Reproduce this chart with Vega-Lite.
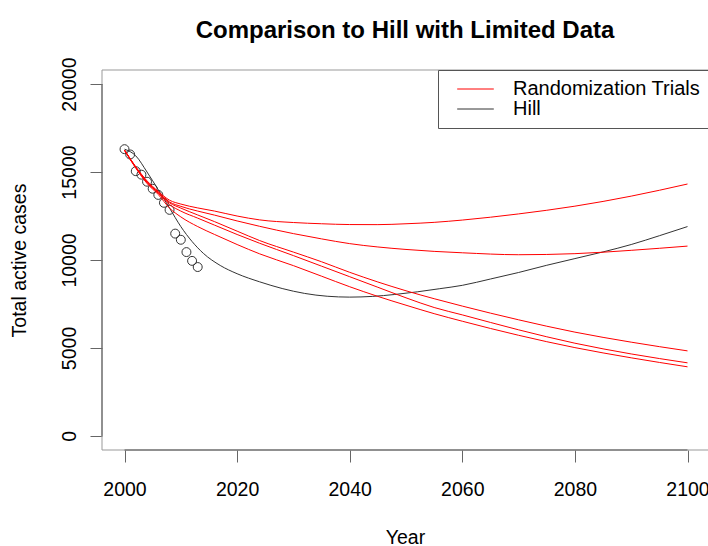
{
  "$schema": "https://vega.github.io/schema/vega-lite/v6.json",
  "width": 606,
  "height": 380,
  "autosize": {"type": "none"},
  "padding": {"left": 102, "top": 70, "right": 0, "bottom": 96},
  "background": "white",
  "title": {
    "text": "Comparison to Hill with Limited Data",
    "font": "Liberation Sans",
    "fontSize": 24,
    "fontWeight": "bold",
    "color": "#000000",
    "anchor": "middle",
    "frame": "group",
    "baseline": "alphabetic",
    "offset": 34,
    "dy": 39
  },
  "datasets": {
    "observed": [
      {"year": 2000, "cases": 16300},
      {"year": 2001, "cases": 16000},
      {"year": 2002, "cases": 15050},
      {"year": 2003, "cases": 14850},
      {"year": 2004, "cases": 14450},
      {"year": 2005, "cases": 14050},
      {"year": 2006, "cases": 13700},
      {"year": 2007, "cases": 13250},
      {"year": 2008, "cases": 12850},
      {"year": 2009, "cases": 11500},
      {"year": 2010, "cases": 11150},
      {"year": 2011, "cases": 10450},
      {"year": 2012, "cases": 9950},
      {"year": 2013, "cases": 9600}
    ],
    "curves": [
      {"model": "Hill", "run": 0, "year": 2000, "cases": 16300},
      {"model": "Hill", "run": 0, "year": 2002, "cases": 15920},
      {"model": "Hill", "run": 0, "year": 2004, "cases": 15000},
      {"model": "Hill", "run": 0, "year": 2006, "cases": 13990},
      {"model": "Hill", "run": 0, "year": 2008, "cases": 12950},
      {"model": "Hill", "run": 0, "year": 2010, "cases": 11900},
      {"model": "Hill", "run": 0, "year": 2012, "cases": 11050},
      {"model": "Hill", "run": 0, "year": 2014, "cases": 10380},
      {"model": "Hill", "run": 0, "year": 2017, "cases": 9690},
      {"model": "Hill", "run": 0, "year": 2020, "cases": 9220},
      {"model": "Hill", "run": 0, "year": 2024, "cases": 8760},
      {"model": "Hill", "run": 0, "year": 2028, "cases": 8380},
      {"model": "Hill", "run": 0, "year": 2032, "cases": 8100},
      {"model": "Hill", "run": 0, "year": 2036, "cases": 7940},
      {"model": "Hill", "run": 0, "year": 2040, "cases": 7890},
      {"model": "Hill", "run": 0, "year": 2044, "cases": 7930},
      {"model": "Hill", "run": 0, "year": 2048, "cases": 8040},
      {"model": "Hill", "run": 0, "year": 2052, "cases": 8190},
      {"model": "Hill", "run": 0, "year": 2056, "cases": 8370},
      {"model": "Hill", "run": 0, "year": 2060, "cases": 8560},
      {"model": "Hill", "run": 0, "year": 2065, "cases": 8920},
      {"model": "Hill", "run": 0, "year": 2070, "cases": 9290},
      {"model": "Hill", "run": 0, "year": 2075, "cases": 9700},
      {"model": "Hill", "run": 0, "year": 2080, "cases": 10080},
      {"model": "Hill", "run": 0, "year": 2085, "cases": 10460},
      {"model": "Hill", "run": 0, "year": 2090, "cases": 10880},
      {"model": "Hill", "run": 0, "year": 2095, "cases": 11380},
      {"model": "Hill", "run": 0, "year": 2100, "cases": 11900},

      {"model": "Randomization Trials", "run": 1, "year": 2000, "cases": 16250},
      {"model": "Randomization Trials", "run": 1, "year": 2002, "cases": 15300},
      {"model": "Randomization Trials", "run": 1, "year": 2004, "cases": 14500},
      {"model": "Randomization Trials", "run": 1, "year": 2006, "cases": 13900},
      {"model": "Randomization Trials", "run": 1, "year": 2008, "cases": 13400},
      {"model": "Randomization Trials", "run": 1, "year": 2010, "cases": 13180},
      {"model": "Randomization Trials", "run": 1, "year": 2013, "cases": 12960},
      {"model": "Randomization Trials", "run": 1, "year": 2016, "cases": 12780},
      {"model": "Randomization Trials", "run": 1, "year": 2020, "cases": 12500},
      {"model": "Randomization Trials", "run": 1, "year": 2024, "cases": 12280},
      {"model": "Randomization Trials", "run": 1, "year": 2030, "cases": 12130},
      {"model": "Randomization Trials", "run": 1, "year": 2035, "cases": 12060},
      {"model": "Randomization Trials", "run": 1, "year": 2040, "cases": 12015},
      {"model": "Randomization Trials", "run": 1, "year": 2045, "cases": 12010},
      {"model": "Randomization Trials", "run": 1, "year": 2050, "cases": 12060},
      {"model": "Randomization Trials", "run": 1, "year": 2055, "cases": 12140},
      {"model": "Randomization Trials", "run": 1, "year": 2060, "cases": 12270},
      {"model": "Randomization Trials", "run": 1, "year": 2070, "cases": 12620},
      {"model": "Randomization Trials", "run": 1, "year": 2080, "cases": 13060},
      {"model": "Randomization Trials", "run": 1, "year": 2090, "cases": 13630},
      {"model": "Randomization Trials", "run": 1, "year": 2100, "cases": 14320},

      {"model": "Randomization Trials", "run": 2, "year": 2000, "cases": 16250},
      {"model": "Randomization Trials", "run": 2, "year": 2002, "cases": 15280},
      {"model": "Randomization Trials", "run": 2, "year": 2004, "cases": 14460},
      {"model": "Randomization Trials", "run": 2, "year": 2006, "cases": 13860},
      {"model": "Randomization Trials", "run": 2, "year": 2008, "cases": 13300},
      {"model": "Randomization Trials", "run": 2, "year": 2010, "cases": 13050},
      {"model": "Randomization Trials", "run": 2, "year": 2013, "cases": 12780},
      {"model": "Randomization Trials", "run": 2, "year": 2016, "cases": 12550},
      {"model": "Randomization Trials", "run": 2, "year": 2020, "cases": 12220},
      {"model": "Randomization Trials", "run": 2, "year": 2024, "cases": 11915},
      {"model": "Randomization Trials", "run": 2, "year": 2030, "cases": 11500},
      {"model": "Randomization Trials", "run": 2, "year": 2035, "cases": 11200},
      {"model": "Randomization Trials", "run": 2, "year": 2040, "cases": 10930},
      {"model": "Randomization Trials", "run": 2, "year": 2045, "cases": 10740},
      {"model": "Randomization Trials", "run": 2, "year": 2050, "cases": 10600},
      {"model": "Randomization Trials", "run": 2, "year": 2055, "cases": 10490},
      {"model": "Randomization Trials", "run": 2, "year": 2060, "cases": 10410},
      {"model": "Randomization Trials", "run": 2, "year": 2070, "cases": 10300},
      {"model": "Randomization Trials", "run": 2, "year": 2080, "cases": 10360},
      {"model": "Randomization Trials", "run": 2, "year": 2090, "cases": 10550},
      {"model": "Randomization Trials", "run": 2, "year": 2100, "cases": 10790},

      {"model": "Randomization Trials", "run": 3, "year": 2000, "cases": 16240},
      {"model": "Randomization Trials", "run": 3, "year": 2002, "cases": 15260},
      {"model": "Randomization Trials", "run": 3, "year": 2004, "cases": 14420},
      {"model": "Randomization Trials", "run": 3, "year": 2006, "cases": 13820},
      {"model": "Randomization Trials", "run": 3, "year": 2008, "cases": 13250},
      {"model": "Randomization Trials", "run": 3, "year": 2010, "cases": 12950},
      {"model": "Randomization Trials", "run": 3, "year": 2013, "cases": 12560},
      {"model": "Randomization Trials", "run": 3, "year": 2016, "cases": 12180},
      {"model": "Randomization Trials", "run": 3, "year": 2020, "cases": 11640},
      {"model": "Randomization Trials", "run": 3, "year": 2024, "cases": 11105},
      {"model": "Randomization Trials", "run": 3, "year": 2030, "cases": 10450},
      {"model": "Randomization Trials", "run": 3, "year": 2035, "cases": 9900},
      {"model": "Randomization Trials", "run": 3, "year": 2040, "cases": 9300},
      {"model": "Randomization Trials", "run": 3, "year": 2045, "cases": 8750},
      {"model": "Randomization Trials", "run": 3, "year": 2050, "cases": 8250},
      {"model": "Randomization Trials", "run": 3, "year": 2055, "cases": 7800},
      {"model": "Randomization Trials", "run": 3, "year": 2060, "cases": 7380},
      {"model": "Randomization Trials", "run": 3, "year": 2070, "cases": 6600},
      {"model": "Randomization Trials", "run": 3, "year": 2080, "cases": 5900},
      {"model": "Randomization Trials", "run": 3, "year": 2090, "cases": 5330},
      {"model": "Randomization Trials", "run": 3, "year": 2100, "cases": 4834},

      {"model": "Randomization Trials", "run": 4, "year": 2000, "cases": 16240},
      {"model": "Randomization Trials", "run": 4, "year": 2002, "cases": 15250},
      {"model": "Randomization Trials", "run": 4, "year": 2004, "cases": 14400},
      {"model": "Randomization Trials", "run": 4, "year": 2006, "cases": 13800},
      {"model": "Randomization Trials", "run": 4, "year": 2008, "cases": 13150},
      {"model": "Randomization Trials", "run": 4, "year": 2010, "cases": 12780},
      {"model": "Randomization Trials", "run": 4, "year": 2013, "cases": 12380},
      {"model": "Randomization Trials", "run": 4, "year": 2016, "cases": 11980},
      {"model": "Randomization Trials", "run": 4, "year": 2020, "cases": 11450},
      {"model": "Randomization Trials", "run": 4, "year": 2024, "cases": 10952},
      {"model": "Randomization Trials", "run": 4, "year": 2030, "cases": 10250},
      {"model": "Randomization Trials", "run": 4, "year": 2035, "cases": 9650},
      {"model": "Randomization Trials", "run": 4, "year": 2040, "cases": 9050},
      {"model": "Randomization Trials", "run": 4, "year": 2045, "cases": 8450},
      {"model": "Randomization Trials", "run": 4, "year": 2050, "cases": 7850},
      {"model": "Randomization Trials", "run": 4, "year": 2055, "cases": 7300},
      {"model": "Randomization Trials", "run": 4, "year": 2060, "cases": 6880},
      {"model": "Randomization Trials", "run": 4, "year": 2070, "cases": 6030},
      {"model": "Randomization Trials", "run": 4, "year": 2080, "cases": 5270},
      {"model": "Randomization Trials", "run": 4, "year": 2090, "cases": 4660},
      {"model": "Randomization Trials", "run": 4, "year": 2100, "cases": 4155},

      {"model": "Randomization Trials", "run": 5, "year": 2000, "cases": 16230},
      {"model": "Randomization Trials", "run": 5, "year": 2002, "cases": 15220},
      {"model": "Randomization Trials", "run": 5, "year": 2004, "cases": 14350},
      {"model": "Randomization Trials", "run": 5, "year": 2006, "cases": 13720},
      {"model": "Randomization Trials", "run": 5, "year": 2008, "cases": 12950},
      {"model": "Randomization Trials", "run": 5, "year": 2010, "cases": 12450},
      {"model": "Randomization Trials", "run": 5, "year": 2013, "cases": 11900},
      {"model": "Randomization Trials", "run": 5, "year": 2016, "cases": 11450},
      {"model": "Randomization Trials", "run": 5, "year": 2020, "cases": 10880},
      {"model": "Randomization Trials", "run": 5, "year": 2024, "cases": 10350},
      {"model": "Randomization Trials", "run": 5, "year": 2030, "cases": 9680},
      {"model": "Randomization Trials", "run": 5, "year": 2035, "cases": 9080},
      {"model": "Randomization Trials", "run": 5, "year": 2040, "cases": 8480},
      {"model": "Randomization Trials", "run": 5, "year": 2045, "cases": 7930},
      {"model": "Randomization Trials", "run": 5, "year": 2050, "cases": 7430},
      {"model": "Randomization Trials", "run": 5, "year": 2055, "cases": 6950},
      {"model": "Randomization Trials", "run": 5, "year": 2060, "cases": 6520},
      {"model": "Randomization Trials", "run": 5, "year": 2070, "cases": 5720},
      {"model": "Randomization Trials", "run": 5, "year": 2080, "cases": 5020},
      {"model": "Randomization Trials", "run": 5, "year": 2090, "cases": 4440},
      {"model": "Randomization Trials", "run": 5, "year": 2100, "cases": 3928}
    ]
  },
  "layer": [
    {
      "data": {"name": "observed"},
      "mark": {"type": "point", "shape": "circle", "filled": false, "size": 80, "stroke": "#333333", "strokeWidth": 1, "opacity": 1},
      "encoding": {
        "x": {
          "field": "year", "type": "quantitative", "title": "Year",
          "scale": {"domain": [1996, 2103.64], "nice": false, "zero": false},
          "axis": {"values": [2000, 2020, 2040, 2060, 2080, 2100], "format": "d"}
        },
        "y": {
          "field": "cases", "type": "quantitative", "title": "Total active cases",
          "scale": {"domain": [-800, 20800], "nice": false, "zero": false},
          "axis": {"values": [0, 5000, 10000, 15000, 20000], "format": "d"}
        }
      }
    },
    {
      "data": {"name": "curves"},
      "mark": {"type": "line", "strokeWidth": 1, "interpolate": "monotone"},
      "encoding": {
        "x": {"field": "year", "type": "quantitative", "title": "Year"},
        "y": {"field": "cases", "type": "quantitative", "title": "Total active cases"},
        "color": {
          "field": "model", "type": "nominal",
          "scale": {"domain": ["Randomization Trials", "Hill"], "range": ["#ff0000", "#333333"]},
          "legend": {
            "title": null,
            "orient": "none",
            "legendX": 336,
            "legendY": 0,
            "symbolType": "M-2,0H2",
            "symbolSize": 335,
            "symbolStrokeWidth": 1,
            "symbolOffset": 18.5,
            "labelOffset": 27.5,
            "padding": 9,
            "rowPadding": 0,
            "strokeColor": "#555555",
            "fillColor": "#ffffff",
            "labelFont": "Liberation Sans",
            "labelFontSize": 20,
            "labelColor": "#000000",
            "labelLimit": 400
          }
        },
        "detail": {"field": "run", "type": "nominal"},
        "order": {"field": "year", "type": "quantitative"}
      }
    },
    {
      "data": {"values": [{}]},
      "mark": {"type": "rule", "color": "#999999", "strokeWidth": 1},
      "encoding": {
        "x": {"datum": 1996, "type": "quantitative", "title": "Year"},
        "x2": {"datum": 2103.64},
        "y": {"datum": 20800, "type": "quantitative", "title": "Total active cases"}
      }
    },
    {
      "data": {"values": [{}]},
      "mark": {"type": "rule", "color": "#999999", "strokeWidth": 1},
      "encoding": {
        "x": {"datum": 1996, "type": "quantitative", "title": "Year"},
        "x2": {"datum": 2103.64},
        "y": {"datum": -800, "type": "quantitative", "title": "Total active cases"}
      }
    },
    {
      "data": {"values": [{}]},
      "mark": {"type": "rule", "color": "#999999", "strokeWidth": 1},
      "encoding": {
        "x": {"datum": 1996, "type": "quantitative", "title": "Year"},
        "y": {"datum": -800, "type": "quantitative", "title": "Total active cases"},
        "y2": {"datum": 20800}
      }
    },
    {
      "data": {"values": [{}]},
      "mark": {"type": "rule", "color": "#555555", "strokeWidth": 1},
      "encoding": {
        "x": {"datum": 2000, "type": "quantitative", "title": "Year"},
        "x2": {"datum": 2100},
        "y": {"datum": -800, "type": "quantitative", "title": "Total active cases"}
      }
    },
    {
      "data": {"values": [{}]},
      "mark": {"type": "rule", "color": "#555555", "strokeWidth": 1},
      "encoding": {
        "x": {"datum": 1996, "type": "quantitative", "title": "Year"},
        "y": {"datum": 0, "type": "quantitative", "title": "Total active cases"},
        "y2": {"datum": 20000}
      }
    }
  ],
  "config": {
    "view": {"stroke": null},
    "axis": {
      "domain": false,
      "grid": false,
      "ticks": true,
      "tickSize": 12,
      "tickColor": "#666666",
      "tickWidth": 1,
      "labelFont": "Liberation Sans",
      "labelFontSize": 19.5,
      "labelColor": "#000000",
      "labelBaseline": "alphabetic",
      "titleFont": "Liberation Sans",
      "titleFontSize": 19.5,
      "titleFontWeight": "normal",
      "titleColor": "#000000",
      "titleBaseline": "alphabetic",
      "labelOverlap": false
    },
    "axisX": {
      "labelAngle": 0,
      "labelAlign": "center",
      "labelPadding": 33,
      "titleY": 93
    },
    "axisY": {
      "labelAngle": 270,
      "labelAlign": "center",
      "labelPadding": 15,
      "titleAngle": 270,
      "titleAlign": "center",
      "titleX": -77,
      "titleY": 190
    }
  }
}
